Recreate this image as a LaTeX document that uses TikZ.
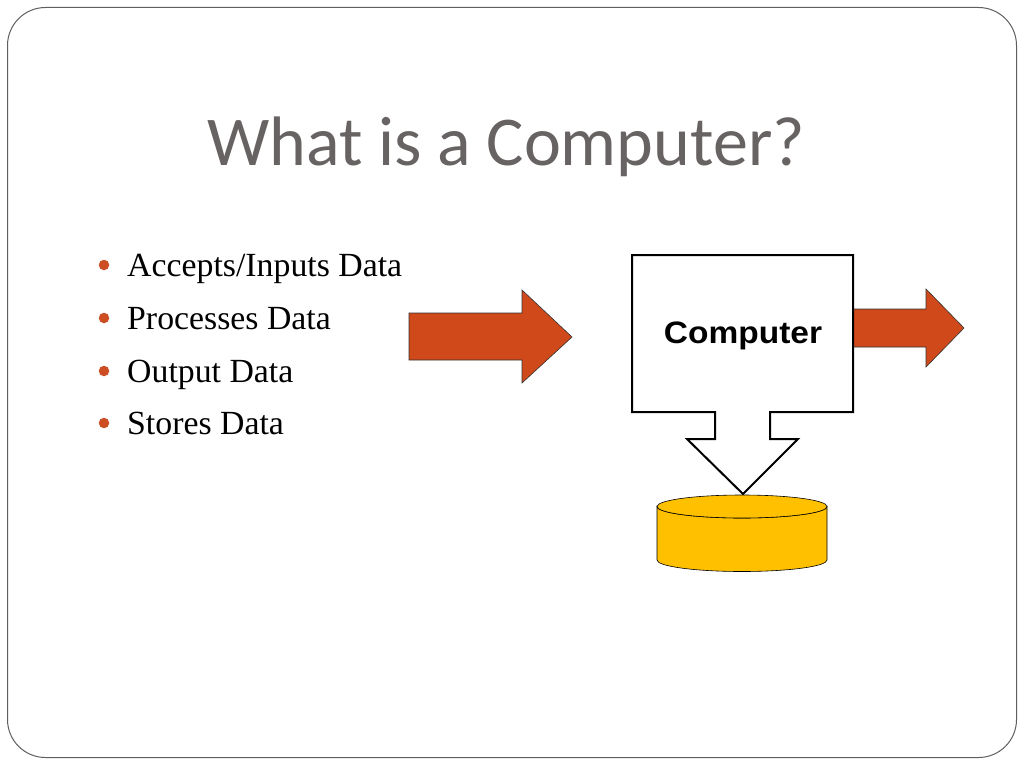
\documentclass[tikz,border=0pt]{standalone}
\usepackage{fontspec}
\setmainfont{Liberation Serif}
\newfontfamily\titlefont{Carlito}
\newfontfamily\boxfont[FakeStretch=1.08]{Liberation Sans}
\definecolor{titlegray}{RGB}{104,99,99}
\definecolor{framegray}{RGB}{95,95,95}
\definecolor{arroworange}{RGB}{208,73,26}
\definecolor{bulletorange}{RGB}{205,78,35}
\definecolor{diskyellow}{RGB}{255,192,0}
\tikzset{
  arrowshape/.style={fill=arroworange, draw=black!80, line width=0.6pt, line join=miter},
  bullettext/.style={anchor=base west, inner sep=0pt, font=\fontsize{33.8}{40}\selectfont},
  bulletdot/.style={circle, fill=bulletorange, minimum size=10.5pt, inner sep=0pt},
  diskshape/.style={fill=diskyellow, draw=black, line width=0.6pt}
}
\begin{document}
\begin{tikzpicture}[x=1pt,y=-1pt]
\useasboundingbox (0,0) rectangle (1024,768);
\fill[white] (0,0) rectangle (1024,768);
\draw[framegray, line width=1pt, rounded corners=38pt] (7.5,7.5) rectangle (1016.5,757.5);

\node[anchor=base, inner sep=0pt, text=titlegray, font=\titlefont\fontsize{70}{84}\selectfont] (title) at (506,165) {What is a Computer?};

\node[bulletdot] (b1) at (104,265) {};
\node[bulletdot] (b2) at (104,318) {};
\node[bulletdot] (b3) at (104,371) {};
\node[bulletdot] (b4) at (104,423) {};
\node[bullettext] (t1) at (127,276) {Accepts/Inputs Data};
\node[bullettext] (t2) at (127,329) {Processes Data};
\node[bullettext] (t3) at (127,382) {Output Data};
\node[bullettext] (t4) at (127,434) {Stores Data};

% input arrow
\draw[arrowshape] (409,313) -- (522,313) -- (522,290) -- (572,337) -- (522,383) -- (522,360) -- (409,360) -- cycle;

% output arrow
\draw[arrowshape] (853,309) -- (926,309) -- (926,289) -- (964,328) -- (926,367) -- (926,347) -- (853,347) -- cycle;

% computer box with down arrow
\draw[fill=white, draw=black, line width=2pt, line join=miter]
  (632,255) -- (853,255) -- (853,412) -- (770,412) -- (770,439) -- (798,439) -- (743,494)
  -- (687,439) -- (715,439) -- (715,412) -- (632,412) -- cycle;
\node[anchor=base, inner sep=0pt, font=\boxfont\bfseries\fontsize{31}{37}\selectfont] (comp) at (743,343) {Computer};

% disk
\draw[diskshape] (657,506.5) -- (657,560) arc[start angle=180, end angle=0, x radius=85, y radius=11.5]
  -- (827,506.5) arc[start angle=0, end angle=180, x radius=85, y radius=11.5] -- cycle;
\draw[diskshape] (742,506.5) ellipse [x radius=85, y radius=11.5];
\end{tikzpicture}
\end{document}
